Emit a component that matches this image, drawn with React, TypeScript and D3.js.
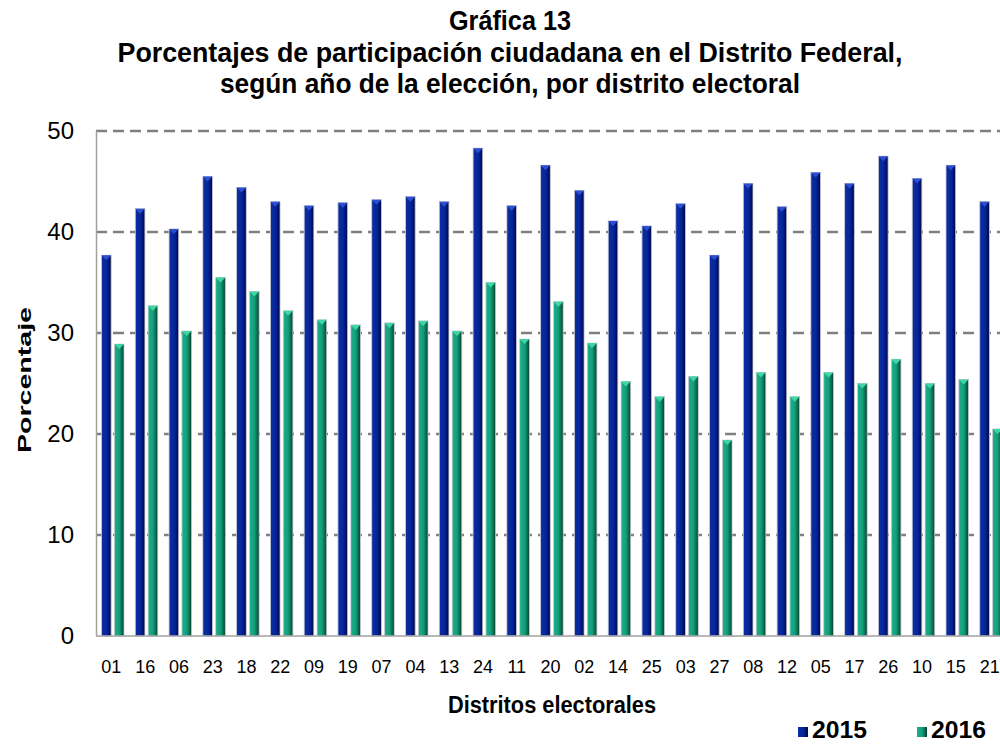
import React from 'react';
import * as d3 from 'd3';

const distritos = ['01', '16', '06', '23', '18', '22', '09', '19', '07', '04', '13', '24', '11', '20', '02', '14', '25', '03', '27', '08', '12', '05', '17', '26', '10', '15', '21'];
const valores2015 = [37.7, 42.3, 40.3, 45.5, 44.4, 43.0, 42.6, 42.9, 43.2, 43.5, 43.0, 48.3, 42.6, 46.6, 44.1, 41.1, 40.6, 42.8, 37.7, 44.8, 42.5, 45.9, 44.8, 47.5, 45.3, 46.6, 43.0];
const valores2016 = [28.9, 32.7, 30.2, 35.5, 34.1, 32.2, 31.3, 30.8, 31.0, 31.2, 30.2, 35.0, 29.4, 33.1, 29.0, 25.2, 23.7, 25.7, 19.4, 26.1, 23.7, 26.1, 25.0, 27.4, 25.0, 25.4, 20.5];
const series = ['2015', '2016'];
const yTicks = [0, 10, 20, 30, 40, 50];

const titulo = ['Gráfica 13', 'Porcentajes de participación ciudadana en el Distrito Federal,', 'según año de la elección, por distrito electoral'];

const W = 1000;
const H = 744;
const LEFT = 96;
const STEP = 33.78;
const TOP = 131;
const BOTTOM = 636;

const App: React.FC = () => {
  // escala de categorías (la gráfica original se sale por la derecha)
  const x0 = d3.scaleBand<string>()
    .domain(distritos)
    .range([LEFT, LEFT + distritos.length * STEP]);
  const x1 = d3.scaleBand<string>()
    .domain(series)
    .range([5.5, 28])
    .paddingInner(0.25)
    .paddingOuter(0);
  const y = d3.scaleLinear().domain([0, 50]).range([BOTTOM, TOP]);

  const bw = x1.bandwidth();
  const narrow = '"Liberation Sans Narrow", "Liberation Sans", Arial, sans-serif';
  const sans = '"Liberation Sans", Arial, sans-serif';

  const barras = distritos.flatMap((d, i) => [
    { d, s: '2015', v: valores2015[i] },
    { d, s: '2016', v: valores2016[i] },
  ]);

  return (
    <svg width={W} height={H} style={{ display: 'block', position: 'absolute', left: 0, top: 0 }}>
      <defs>
        <linearGradient id="gAzul" x1="0" x2="1" y1="0" y2="0">
          <stop offset="0" stopColor="#0c2f9f" />
          <stop offset="0.55" stopColor="#06259a" />
          <stop offset="0.8" stopColor="#021470" />
          <stop offset="1" stopColor="#000a38" />
        </linearGradient>
        <linearGradient id="gVerde" x1="0" x2="1" y1="0" y2="0">
          <stop offset="0" stopColor="#1fae86" />
          <stop offset="0.5" stopColor="#11a07a" />
          <stop offset="0.8" stopColor="#0b6a50" />
          <stop offset="1" stopColor="#06382a" />
        </linearGradient>
      </defs>
      <rect width={W} height={H} fill="#ffffff" />

      {/* títulos */}
      {titulo.map((t, i) => (
        <text key={i} x={510} y={30 + i * 31.5} textAnchor="middle"
          fontFamily={narrow} fontWeight="bold" fontSize={27} fill="#000"
          textLength={[122, 785, 580][i]} lengthAdjust="spacingAndGlyphs">{t}</text>
      ))}

      {/* rejilla */}
      {yTicks.filter(t => t > 0).map(t => (
        <line key={t} x1={LEFT} x2={W} y1={y(t)} y2={y(t)}
          stroke="#808080" strokeWidth={2.5} strokeDasharray="11 6" />
      ))}
      <line x1={LEFT + 0.5} x2={LEFT + 0.5} y1={TOP} y2={BOTTOM} stroke="#a0a0a0" strokeWidth={1.5} />

      {/* barras */}
      {barras.map(b => {
        const bx = (x0(b.d) ?? 0) + (x1(b.s) ?? 0);
        const by = y(b.v);
        const light = b.s === '2015' ? '#2b4fd0' : '#3fd6a6';
        return (
          <g key={b.d + b.s}>
            <rect x={bx} y={by} width={bw} height={BOTTOM - by}
              fill={b.s === '2015' ? 'url(#gAzul)' : 'url(#gVerde)'}
              stroke="#c8cad6" strokeWidth={0.8} />
            <path d={`M${bx},${by} L${bx + bw},${by} L${bx + bw / 2},${by + 5} Z`} fill={light} />
          </g>
        );
      })}

      <line x1={LEFT} x2={W} y1={BOTTOM} y2={BOTTOM} stroke="#a0a0a0" strokeWidth={1.5} />

      {/* eje y */}
      {yTicks.map(t => (
        <text key={t} x={74} y={y(t) + 8} textAnchor="end" fontFamily={sans} fontSize={24} fill="#000">{t}</text>
      ))}
      <text transform={`translate(31,380) rotate(-90)`} textAnchor="middle" fontFamily={sans}
        fontWeight="bold" fontSize={19} textLength={146} lengthAdjust="spacingAndGlyphs">Porcentaje</text>

      {/* eje x */}
      {distritos.map(d => (
        <text key={d} x={(x0(d) ?? 0) + STEP / 2 - 1.5} y={673} textAnchor="middle"
          fontFamily={sans} fontSize={18} fill="#000">{d}</text>
      ))}
      <text x={552} y={713} textAnchor="middle" fontFamily={narrow} fontWeight="bold"
        fontSize={23} textLength={208} lengthAdjust="spacingAndGlyphs">Distritos electorales</text>

      {/* leyenda */}
      {series.map((s, i) => {
        const lx = 798 + i * 119;
        return (
          <g key={s}>
            <rect x={lx} y={727} width={10} height={10} fill={i === 0 ? 'url(#gAzul)' : 'url(#gVerde)'} />
            <text x={lx + 14} y={738} fontFamily={narrow} fontWeight="bold" fontSize={24}
              textLength={55} lengthAdjust="spacingAndGlyphs">{s}</text>
          </g>
        );
      })}
    </svg>
  );
};

export default App;
